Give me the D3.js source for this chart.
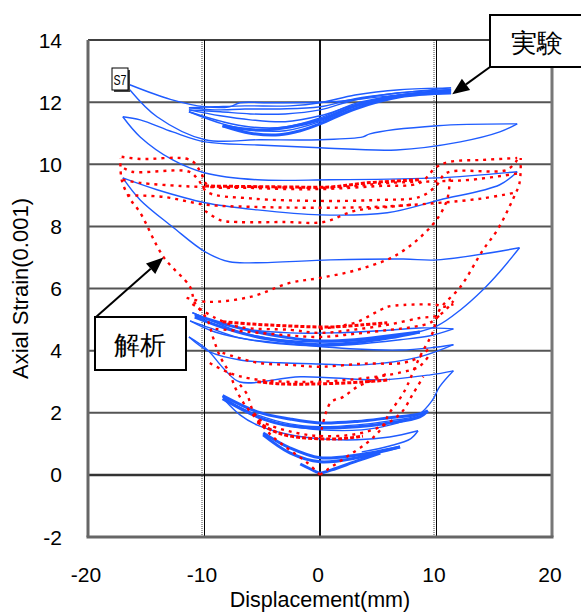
<!DOCTYPE html>
<html>
<head>
<meta charset="utf-8">
<script src="https://cdn.jsdelivr.net/npm/d3@7"></script>
<style>
  body { margin: 0; background: #fff; }
  svg { display: block; }
  text { font-family: "Liberation Sans", Arial, sans-serif; fill: #000; }
</style>
</head>
<body>
<svg width="581" height="613"></svg>
<script>
// axis ticks
const xTicks = [-20, -10, 0, 10, 20];
const yTicks = [-2, 0, 2, 4, 6, 8, 10, 12, 14];

// ---- experiment (blue), [displacement mm, axial strain 0.001]
const expS7Upper = [[-16.4,12.56],[-12.9,12.09],[-9.9,11.85],[-7.8,11.85],[-6.9,11.98],[-4.3,11.98],[0.9,12.01],[5.2,12.17],[11.3,12.40]];

const expTop1 = [[-11.3,11.82],[-9.05,11.75],[-6.47,11.78],[-3.45,11.78],[0,11.85],[3.02,12.11],[6.9,12.30],[11.3,12.46],[6.9,12.40],[3.02,12.23],[0,11.98],[-2.59,11.88],[-6.47,11.88],[-9.05,11.85],[-11.3,11.82]];
const expTop2 = [[-11.3,11.75],[-8.6,11.56],[-6.0,11.43],[-3.0,11.37],[0,11.56],[3.0,11.91],[6.9,12.23],[11.3,12.40],[6.9,12.30],[3.0,12.07],[0,11.75],[-3.0,11.62],[-6.0,11.62],[-8.6,11.69],[-11.3,11.75]];
const expTop3 = [[-11.3,11.69],[-8.4,11.30],[-6.0,11.11],[-3.0,11.08],[0,11.37],[3.0,11.85],[6.9,12.20],[11.3,12.36],[6.9,12.23],[3.0,11.95],[0,11.49],[-3.0,11.20],[-6.0,11.20],[-8.4,11.37],[-11.3,11.69]];
const expTop4 = [[-8.4,11.24],[-6.0,11.0],[-3.5,10.95],[-1.7,11.08],[0,11.3],[3.0,11.78],[6.9,12.17],[11.3,12.3],[6.9,12.2],[3.0,11.88],[0,11.43],[-2.6,11.2],[-5.2,11.1],[-6.9,11.15],[-8.4,11.24]];

const expCycleA = [[-16.4,12.4],[-14.05,11.53],[-9.9,10.79],[-5.2,10.79],[0,10.79],[3.7,10.88],[4.3,10.98],[10.1,11.24],[17.0,11.3],
  [15.5,11.04],[12.1,10.72],[6.6,10.46],[0,10.53],[-5.4,10.62],[-9.9,10.72],[-12.7,11.04],[-15.5,11.43],[-17.0,11.53],
  [-15.5,10.88],[-12.7,10.14],[-9.9,9.72],[-5.4,9.5],[0.9,9.5],[10.1,9.56],[17.0,9.76],
  [15.5,9.34],[10.3,8.85],[5.8,8.44],[0,8.37],[-5.4,8.53],[-9.9,8.76],[-14.05,9.18],[-17.0,9.56],
  [-15.5,8.85],[-12.7,7.98],[-9.9,7.18],[-7.8,6.86],[-5.4,6.83],[0.9,6.92],[7.2,6.95],[10.1,6.92],[17.2,7.31],
  [15.5,6.54],[14.05,5.96],[12.1,5.31],[10.1,4.8],[6.9,4.48],[2.6,4.31],[0,4.28],[-3.45,4.35],[-6.9,4.6],[-9.5,4.99],[-11.0,5.22]];

const expCycleB = [[-11.0,5.22],[-9.05,4.93],[-6.0,4.67],[-2.6,4.57],[0.9,4.57],[5.2,4.64],[8.6,4.73],[11.5,4.70],
  [9.5,4.48],[6.9,4.35],[2.6,4.19],[0,4.15],[-3.45,4.22],[-6.9,4.41],[-9.5,4.73],[-11.2,4.96],
  [-9.05,4.6],[-6.0,4.35],[-1.7,4.19],[2.6,4.06],[6.9,4.02],[9.5,4.09],[11.5,4.19],
  [8.6,3.8],[3.7,3.54],[0,3.57],[-3.45,3.61],[-6.9,3.7],[-9.5,3.96],[-11.3,4.44],
  [-9.7,4.02],[-8.2,3.38],[-6.9,2.99],[-1.7,3.16],[5.2,3.06],[9.5,3.22],[11.5,3.35],
  [10.3,2.83],[9.7,2.41],[8.45,1.93],[6.0,1.74],[3.2,1.61],[0,1.55],[-2.6,1.64],[-5.4,1.93],[-7.3,2.25],[-8.4,2.51]];

const expMidThick = [[-10.8,5.15],[-8.0,4.83],[-5.4,4.6],[-2.6,4.41],[0,4.31],[3.0,4.35],[6.0,4.48],[8.6,4.6],[6.0,4.41],[3.0,4.25],[0,4.19],[-2.6,4.28],[-5.4,4.44],[-8.0,4.7],[-10.8,5.08]];

const expLow1 = [[-8.4,2.55],[-5.4,2.03],[-2.6,1.8],[0,1.67],[3.2,1.72],[6.0,1.84],[8.6,1.96],[9.3,2.06],[8.6,1.87],[6.0,1.67],[3.2,1.55],[0,1.51],[-2.6,1.58],[-5.4,1.87],[-8.4,2.45]];
const expLow2 = [[-8.2,2.4],[-6.9,1.93],[-5.4,1.6],[-2.6,1.29],[0,1.16],[3.2,1.13],[6.0,1.22],[8.45,1.42],[7.8,1.16],[6.0,0.93],[3.6,0.74]];
const expLow3 = [[-8.2,2.45],[-5.0,1.8],[-2.6,1.58],[0,1.45],[3.6,1.45],[6.0,1.6],[8.6,1.9]];
const expLow4 = [[-4.9,1.29],[-2.6,0.71],[0,0.42],[3.2,0.55],[5.2,0.74],[6.9,0.9],[3.2,0.64],[0,0.55],[-2.6,0.87],[-4.9,1.35]];
const expLow5 = [[-1.7,0.35],[-0.5,0.13],[0,0.06],[1.0,0.16],[3.2,0.45],[5.2,0.7]];

// ---- analysis (red dotted)
const anaEnvRight = [[0,0],[0.6,0.16],[2.3,0.58],[4.05,1.03],[5.2,1.45],[6.0,2.0],[7.2,2.64],[8.6,3.8],[9.7,4.57],[10.3,5.31],[12.1,6.05],[14.05,7.24],[15.3,7.89],[16.6,8.85],[17.2,9.4],[17.3,10.2]];
const anaEnvLeft = [[0,0],[-1.1,0.39],[-2.6,0.8],[-4.05,1.22],[-5.4,1.77],[-6.6,2.32],[-7.3,2.8],[-7.8,3.28],[-8.6,3.8],[-9.2,4.4],[-9.7,4.99],[-10.8,5.55],[-11.2,6.05],[-13.5,7.02],[-15.5,8.44],[-16.4,8.9],[-17.1,9.5],[-17.2,10.2]];
const anaReload = [[-11.5,5.7],[-9.7,5.57],[-6.0,5.73],[-2.6,6.18],[0,6.34],[3.2,6.6],[6.6,7.08],[9.7,8.05],[10.95,8.85],[11.2,9.66]];

const anaTop1 = [[-17.1,10.24],[-15.5,10.17],[-11.2,10.14],[-10.3,9.76],[-9.7,9.34],[-6.0,9.24],[0,9.2],[5.0,9.3],[8.6,9.4],[10.0,9.9],[11.2,10.08],[14.0,10.14],[17.0,10.2]];
const anaTop2 = [[17.0,10.14],[16.1,9.82],[10.9,9.72],[10.0,9.3],[8.6,8.95],[5.0,8.85],[0,8.82],[-6.0,8.9],[-9.7,9.1],[-10.5,9.5],[-11.3,9.76],[-16.2,9.76],[-17.0,9.9]];
const anaTop3 = [[-17.0,9.5],[-15.5,9.4],[-12.0,9.3],[-10.0,9.27],[-6.0,9.27],[0,9.24],[3.0,9.3],[6.0,9.4],[10.0,9.45],[13.0,9.5],[17.0,9.7]];
const anaTop4 = [[-16.6,9.0],[-13.5,8.95],[-9.9,8.7],[-6.0,8.63],[0,8.6],[5.0,8.63],[10.0,8.75],[14.0,8.9],[17.0,9.1]];
const anaTop5 = [[-9.9,8.5],[-8.6,8.2],[-7.1,8.14],[-3.0,8.14],[0.3,8.14],[3.0,8.5],[6.0,8.63],[8.0,8.7]];
const anaTopDense = [[-9.9,9.3],[-3.0,9.27],[0.9,9.27],[4.0,9.4],[8.6,9.5]];

const anaMidDense = [[-8.4,4.93],[-6.0,4.86],[-3.0,4.8],[0.9,4.76],[3.7,4.83],[5.8,4.9]];
const anaMid1 = [[-11.0,5.5],[-9.0,5.05],[-6.9,4.76],[-2.6,4.67],[0,4.57],[2.8,4.67],[5.8,4.83],[8.6,5.05],[10.3,5.15],[11.5,5.6]];
const anaMid2 = [[0,4.7],[3.0,4.9],[5.2,5.31],[5.8,5.41],[7.2,5.47],[10.1,5.47],[10.6,5.41],[11.5,5.5]];
const anaMid3 = [[-9.0,4.7],[-6.0,4.6],[-3.0,4.5],[0,4.44],[3.0,4.54],[6.0,4.67],[8.0,4.76],[9.5,4.9],[10.5,5.2]];

const anaLow1 = [[-8.4,3.93],[-5.4,3.61],[-2.6,3.54],[0,3.48],[3.7,3.58],[7.2,3.61],[8.6,3.8],[9.5,4.12]];
const anaLowDense = [[-5.4,3.0],[-3.45,2.93],[0,2.93],[3.7,2.99],[6.0,3.06]];
const anaLow2 = [[-9.5,3.6],[-7.8,3.28],[-6.0,3.1],[-3.0,3.0],[0,3.0],[4.0,3.12],[7.0,3.3],[8.6,3.5],[9.5,3.9]];

const anaBotDense = [[-5.4,1.7],[-4.05,1.42],[-2.6,1.25],[0,1.16],[1.7,1.16],[3.2,1.22],[3.7,1.25]];
const anaBot1 = [[-6.9,2.9],[-6.3,2.6],[-5.7,2.0],[-4.9,1.7],[-2.6,1.4],[0,1.25],[3.2,1.32],[5.5,1.6],[7.0,2.0],[8.0,2.6],[8.9,3.16]];
const anaBot2 = [[0,1.2],[0.9,2.32],[2.0,2.51],[3.2,2.83],[4.6,3.06],[6.0,3.3]];

const expThin = [expS7Upper, expTop1, expTop2, expTop3, expCycleA, expCycleB, expLow2, expLow3];
const expThick = [expTop4, expMidThick, expLow1, expLow4, expLow5];
const anaDotted = [anaEnvRight, anaEnvLeft, anaReload, anaTop1, anaTop2, anaTop3, anaTop4, anaTop5, anaMid1, anaMid2, anaMid3, anaLow1, anaLow2, anaBot1, anaBot2];
const anaDense = [anaTopDense, anaMidDense, anaLowDense, anaBotDense];

const svg = d3.select('svg');
const x = d3.scaleLinear().domain([-20, 20]).range([88, 552]);
const y = d3.scaleLinear().domain([-2, 14]).range([537, 40]);

const blue = '#1f5cff', red = '#ff0000';

// grid
const grid = svg.append('g');
grid.selectAll('.hg').data(yTicks.filter(d => d > -2 && d < 14 && d !== 0)).enter().append('line')
  .attr('x1', x(-20)).attr('x2', x(20)).attr('y1', d => y(d)).attr('y2', d => y(d))
  .attr('stroke', '#555').attr('stroke-width', 2);
grid.append('line').attr('x1', x(-20)).attr('x2', x(20)).attr('y1', y(0)).attr('y2', y(0))
  .attr('stroke', '#333').attr('stroke-width', 2.5);
[-10, 10].forEach(v => {
  grid.append('line').attr('x1', x(v) - 2).attr('x2', x(v) - 2).attr('y1', y(14)).attr('y2', y(-2))
    .attr('stroke', '#444').attr('stroke-width', 1).attr('stroke-dasharray', '1,1');
  grid.append('line').attr('x1', x(v) + 0.5).attr('x2', x(v) + 0.5).attr('y1', y(14)).attr('y2', y(-2))
    .attr('stroke', '#000').attr('stroke-width', 1);
});
grid.append('line').attr('x1', x(0)).attr('x2', x(0)).attr('y1', y(14)).attr('y2', y(-2))
  .attr('stroke', '#111').attr('stroke-width', 2);

// split a loop at reversal tips so the smooth curve keeps sharp ends
function splitAtTurns(pts) {
  const segs = [];
  let cur = [pts[0]], dir = 0;
  for (let i = 1; i < pts.length; i++) {
    const d = Math.sign(pts[i][0] - pts[i - 1][0]);
    if (dir !== 0 && d !== 0 && d !== dir) {
      segs.push(cur);
      cur = [pts[i - 1]];
    }
    if (d !== 0) dir = d;
    cur.push(pts[i]);
  }
  segs.push(cur);
  return segs;
}

const line = d3.line().x(d => x(d[0])).y(d => y(d[1])).curve(d3.curveCatmullRom.alpha(0.5));

function drawSet(sets, attrs) {
  const g = svg.append('g').attr('fill', 'none');
  sets.forEach(pts => {
    splitAtTurns(pts).forEach(seg => {
      const p = g.append('path').attr('d', line(seg));
      Object.keys(attrs).forEach(k => p.attr(k, attrs[k]));
    });
  });
}

drawSet(expThin, { stroke: blue, 'stroke-width': 1.4 });
drawSet(expThick, { stroke: blue, 'stroke-width': 3 });
drawSet(anaDotted, { stroke: red, 'stroke-width': 2.4, 'stroke-dasharray': '3,5' });
drawSet(anaDense, { stroke: red, 'stroke-width': 3, 'stroke-dasharray': '4,2' });

// frame
const frame = svg.append('g');
frame.append('line').attr('x1', x(-20)).attr('x2', x(20)).attr('y1', y(14)).attr('y2', y(14)).attr('stroke', '#000').attr('stroke-width', 1.5);
frame.append('line').attr('x1', x(-20)).attr('x2', x(-20)).attr('y1', y(14)).attr('y2', y(-2)).attr('stroke', '#666').attr('stroke-width', 3);
frame.append('line').attr('x1', x(20)).attr('x2', x(20)).attr('y1', y(14)).attr('y2', y(-2)).attr('stroke', '#777').attr('stroke-width', 3);
frame.append('line').attr('x1', x(-20) - 1.5).attr('x2', x(20) + 1.5).attr('y1', y(-2)).attr('y2', y(-2)).attr('stroke', '#666').attr('stroke-width', 3);

// tick labels
svg.append('g').selectAll('text').data(yTicks).enter().append('text')
  .attr('x', 62).attr('y', d => y(d)).attr('dy', '0.36em')
  .attr('text-anchor', 'end').attr('font-size', 21).text(d => d);
svg.append('g').selectAll('text').data(xTicks).enter().append('text')
  .attr('x', d => x(d) - 2).attr('y', 582)
  .attr('text-anchor', 'middle').attr('font-size', 21).text(d => d);

// axis titles
svg.append('text').attr('x', x(0)).attr('y', 607).attr('text-anchor', 'middle')
  .attr('font-size', 21.5).text('Displacement(mm)');
svg.append('text').attr('transform', 'translate(28,' + (y(6)) + ') rotate(-90)')
  .attr('text-anchor', 'middle').attr('font-size', 22).text('Axial Strain(0.001)');

// S7 label
svg.append('rect').attr('x', 114).attr('y', 70).attr('width', 16).attr('height', 22).attr('fill', '#444');
svg.append('rect').attr('x', 112).attr('y', 68).attr('width', 16).attr('height', 22)
  .attr('fill', '#fff').attr('stroke', '#000').attr('stroke-width', 1);
svg.append('text').attr('x', 120).attr('y', 85).attr('text-anchor', 'middle')
  .attr('font-size', 15).attr('textLength', 13).attr('lengthAdjust', 'spacingAndGlyphs').text('S7');

// callouts
function arrow(x1, y1, x2, y2) {
  const a = Math.atan2(y2 - y1, x2 - x1), len = 17, hw = 7;
  const bx = x2 - len * Math.cos(a), by = y2 - len * Math.sin(a);
  svg.append('line').attr('x1', x1).attr('y1', y1).attr('x2', bx).attr('y2', by)
    .attr('stroke', '#000').attr('stroke-width', 2);
  svg.append('polygon').attr('points', [
    [x2, y2],
    [bx + hw * Math.sin(a), by - hw * Math.cos(a)],
    [bx - hw * Math.sin(a), by + hw * Math.cos(a)]
  ].map(p => p.join(',')).join(' ')).attr('fill', '#000');
}

svg.append('rect').attr('x', 490).attr('y', 15).attr('width', 100).attr('height', 52)
  .attr('fill', '#fff').attr('stroke', '#000').attr('stroke-width', 2);
svg.append('text').attr('x', 537).attr('y', 52).attr('text-anchor', 'middle')
  .attr('font-family', '"Noto Sans CJK JP", sans-serif').attr('font-size', 26).text('実験');
arrow(490, 67, x(11.4), y(12.25));

svg.append('rect').attr('x', 95).attr('y', 317).attr('width', 91).attr('height', 53)
  .attr('fill', '#fff').attr('stroke', '#000').attr('stroke-width', 2);
svg.append('text').attr('x', 140).attr('y', 354).attr('text-anchor', 'middle')
  .attr('font-family', '"Noto Sans CJK JP", sans-serif').attr('font-size', 26).text('解析');
arrow(96, 317, x(-13.5), y(7.0));
</script>
</body>
</html>
